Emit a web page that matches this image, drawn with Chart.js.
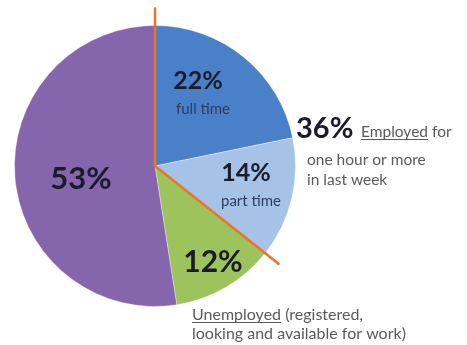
<!DOCTYPE html>
<html>
<head>
<meta charset="utf-8">
<script src="https://cdn.jsdelivr.net/npm/chart.js@4"></script>
<style>
  html, body { margin: 0; padding: 0; background: #fff; }
  #wrap { width: 467px; height: 345px; }
</style>
</head>
<body>
<div id="wrap"><canvas id="pieChart" width="467" height="345"></canvas></div>
<script>
// labour force shares, clockwise from 12 o'clock
const categories = ['Employed full time', 'Employed part time', 'Unemployed', 'Not in labour force'];
const shares = [22, 14, 12, 53];
const sliceColors = ['#4a80c8', '#a6c2e7', '#9cc35c', '#8566ad'];
const sliceSubLabels = ['full time', 'part time', '', ''];
const employedTotal = 36;

// where each slice's percentage goes (centre of text)
const labelSpots = [
  { x: 198, y: 81, size: 25 },
  { x: 246, y: 173, size: 25 },
  { x: 213, y: 262, size: 30 },
  { x: 81, y: 179, size: 31 }
];

const FONT = 'Lato, "Open Sans", sans-serif';

// orange dividers: one at the start of the pie, one after the employed slices
const dividerPlugin = {
  id: 'dividers',
  afterDatasetsDraw(chart) {
    const meta = chart.getDatasetMeta(0);
    const first = meta.data[0];
    const lastEmployed = meta.data[1];
    const ctx = chart.ctx;
    const len = first.outerRadius + 17;
    ctx.save();
    ctx.strokeStyle = '#ec7424';
    ctx.lineWidth = 2.5;
    ctx.lineCap = 'round';
    [first.startAngle, lastEmployed.endAngle].forEach(a => {
      ctx.beginPath();
      ctx.moveTo(first.x, first.y);
      ctx.lineTo(first.x + Math.cos(a) * len, first.y + Math.sin(a) * len);
      ctx.stroke();
    });
    ctx.restore();
  }
};

function underlined(ctx, text, x, y) {
  ctx.fillText(text, x, y);
  const w = ctx.measureText(text).width;
  ctx.fillRect(x, y + 2, w, 1);
  return w;
}

const textPlugin = {
  id: 'sliceText',
  afterDraw(chart) {
    const ctx = chart.ctx;
    ctx.save();
    ctx.textAlign = 'center';
    ctx.textBaseline = 'middle';
    shares.forEach((v, i) => {
      const s = labelSpots[i];
      ctx.fillStyle = '#1b1b2a';
      ctx.font = `bold ${s.size}px ${FONT}`;
      ctx.fillText(v + '%', s.x, s.y);
      if (sliceSubLabels[i]) {
        ctx.fillStyle = '#2c3d5c';
        ctx.font = `15px ${FONT}`;
        ctx.fillText(sliceSubLabels[i], s.x + 5, s.y + 28);
      }
    });

    // employed callout
    ctx.textAlign = 'left';
    ctx.textBaseline = 'alphabetic';
    ctx.fillStyle = '#1b1b2a';
    ctx.font = `bold 29px ${FONT}`;
    ctx.fillText(employedTotal + '%', 296, 138);
    ctx.fillStyle = '#5a5a5a';
    ctx.font = `15.5px ${FONT}`;
    const w = underlined(ctx, 'Employed', 361, 137);
    ctx.fillText(' for', 361 + w, 137);
    ctx.fillText('one hour or more', 307, 165);
    ctx.fillText('in last week', 307, 185);

    // unemployed callout
    ctx.font = `16px ${FONT}`;
    const w2 = underlined(ctx, 'Unemployed', 192, 320);
    ctx.fillText(' (registered,', 192 + w2, 320);
    ctx.fillText('looking and available for work)', 192, 339);
    ctx.restore();
  }
};

new Chart(document.getElementById('pieChart'), {
  type: 'pie',
  data: {
    labels: categories,
    datasets: [{
      data: shares,
      backgroundColor: sliceColors,
      borderColor: 'rgba(255,255,255,0.35)',
      borderWidth: 1
    }]
  },
  options: {
    responsive: false,
    animation: false,
    layout: { padding: { left: 14, right: 171, top: 25, bottom: 38 } },
    plugins: {
      legend: { display: false },
      tooltip: { enabled: false }
    }
  },
  plugins: [dividerPlugin, textPlugin]
});
</script>
</body>
</html>
